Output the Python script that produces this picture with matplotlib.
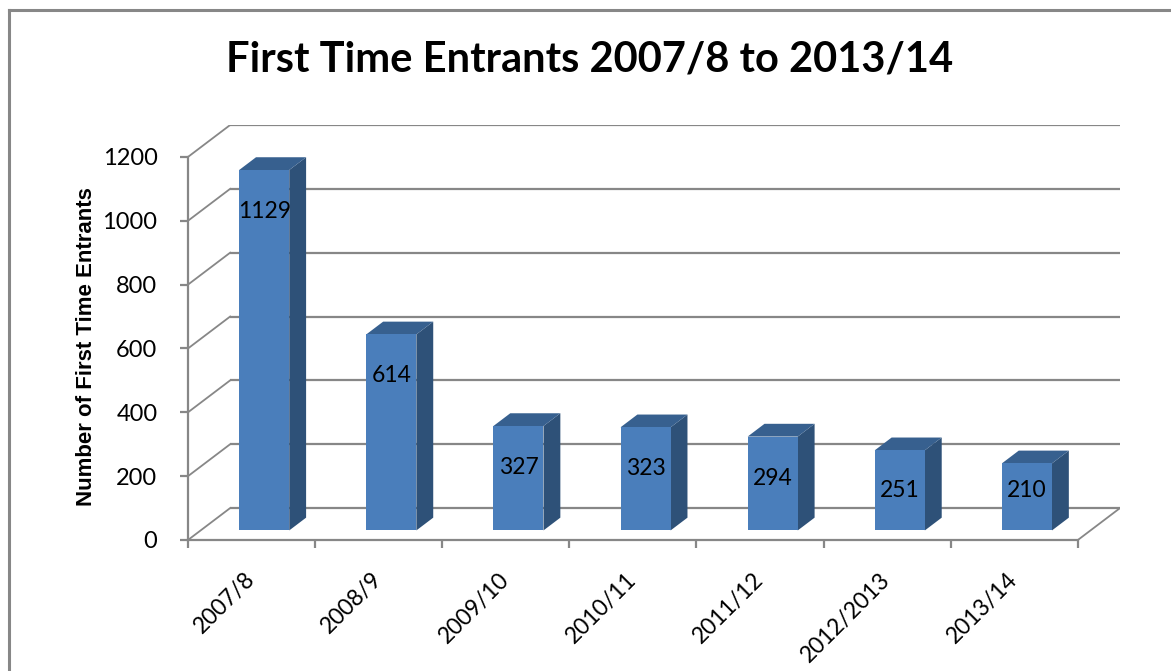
import numpy as np
import matplotlib.pyplot as plt
from matplotlib.patches import Polygon
from matplotlib.lines import Line2D

years = ['2007/8', '2008/9', '2009/10', '2010/11', '2011/12', '2012/2013', '2013/14']
entrants = [1129, 614, 327, 323, 294, 251, 210]
y_ticks = [0, 200, 400, 600, 800, 1000, 1200]

body_font = 'Lato'

W, H = 1171, 671
fig = plt.figure(figsize=(W / 100, H / 100), dpi=100)
fig.patch.set_facecolor('white')

# axes box covers front plane + the depth offset of the back wall
ax = fig.add_axes([188 / W, 1 - 540 / H, (1120 - 188) / W, (540 - 125) / H])
n = len(years)
ymax = y_ticks[-1]
D = 0.3315   # depth shift, in category units
DY = 100     # depth shift, in value units
ax.set_xlim(-0.5, n - 0.5 + D)
ax.set_ylim(0, ymax + DY)
ax.patch.set_alpha(0)

grid_c = '#878787'
glw = 1.6

# back wall gridlines + left wall diagonals
for v in y_ticks:
    ax.plot([-0.5 + D, n - 0.5 + D], [v + DY, v + DY], color=grid_c, lw=glw, zorder=1,
            solid_capstyle='butt')
    ax.plot([-0.5, -0.5 + D], [v, v + DY], color=grid_c, lw=1.3, zorder=1)
# right edge of the floor
ax.plot([n - 0.5, n - 0.5 + D], [0, DY], color=grid_c, lw=1.3, zorder=1)

# bars
f0, f1 = 0.3, 0.7
bw = 0.394
front_c = '#4a7ebb'
side_c = '#2e5178'
top_c = '#37608f'
for i, v in enumerate(entrants):
    xl = i - bw / 2 + f0 * D
    xr = i + bw / 2 + f0 * D
    yb = f0 * DY
    yt = v + f0 * DY
    dd = (f1 - f0) * D
    ddy = (f1 - f0) * DY
    ax.add_patch(Polygon([(xr, yb), (xr, yt), (xr + dd, yt + ddy), (xr + dd, yb + ddy)],
                         closed=True, facecolor=side_c, edgecolor='none', zorder=3))
    ax.add_patch(Polygon([(xl, yt), (xr, yt), (xr + dd, yt + ddy), (xl + dd, yt + ddy)],
                         closed=True, facecolor=top_c, edgecolor='none', zorder=3))
    ax.add_patch(Polygon([(xl, yb), (xr, yb), (xr, yt), (xl, yt)],
                         closed=True, facecolor=front_c, edgecolor='none', zorder=4))
    ly = max(v - 130, 125) + f0 * DY
    ax.text(i + f0 * D, ly, str(v), ha='center', va='center', fontsize=16.5,
            family=body_font, color='black', zorder=5)

# front axes
for s in ['top', 'right']:
    ax.spines[s].set_visible(False)
ax.spines['left'].set_bounds(0, ymax)
ax.spines['bottom'].set_bounds(-0.5, n - 0.5)
for s in ['left', 'bottom']:
    ax.spines[s].set_color(grid_c)
    ax.spines[s].set_linewidth(glw)

ax.set_yticks(y_ticks)
ax.set_yticklabels([str(t) for t in y_ticks], fontsize=17, family=body_font)
ax.tick_params(axis='y', length=6, width=glw, color=grid_c, pad=16)

ax.set_xticks(np.arange(n))
ax.set_xticks(np.arange(n + 1) - 0.5, minor=True)
ax.set_xticklabels(years, rotation=45, ha='right', va='center', rotation_mode='anchor',
                   fontsize=16.5, family=body_font)
ax.tick_params(axis='x', which='major', length=0, pad=26)
ax.tick_params(axis='x', which='minor', length=6, width=glw, color=grid_c)

fig.text(87 / W, 1 - 347 / H, 'Number of First Time Entrants', rotation=90,
         ha='center', va='center', fontsize=16, fontweight='bold', family='Liberation Sans')

fig.text(590 / W, 1 - 60 / H, 'First Time Entrants 2007/8 to 2013/14', ha='center',
         va='center', fontsize=30, fontweight='bold', family=body_font)

# chart border (only top and left show in the crop)
fig.add_artist(Line2D([8.5 / W, 8.5 / W], [0, 1 - 10 / H], color=grid_c, lw=2.2))
fig.add_artist(Line2D([8.5 / W, 1], [1 - 10 / H, 1 - 10 / H], color=grid_c, lw=2.2))

fig.savefig('out.png', dpi=100)
